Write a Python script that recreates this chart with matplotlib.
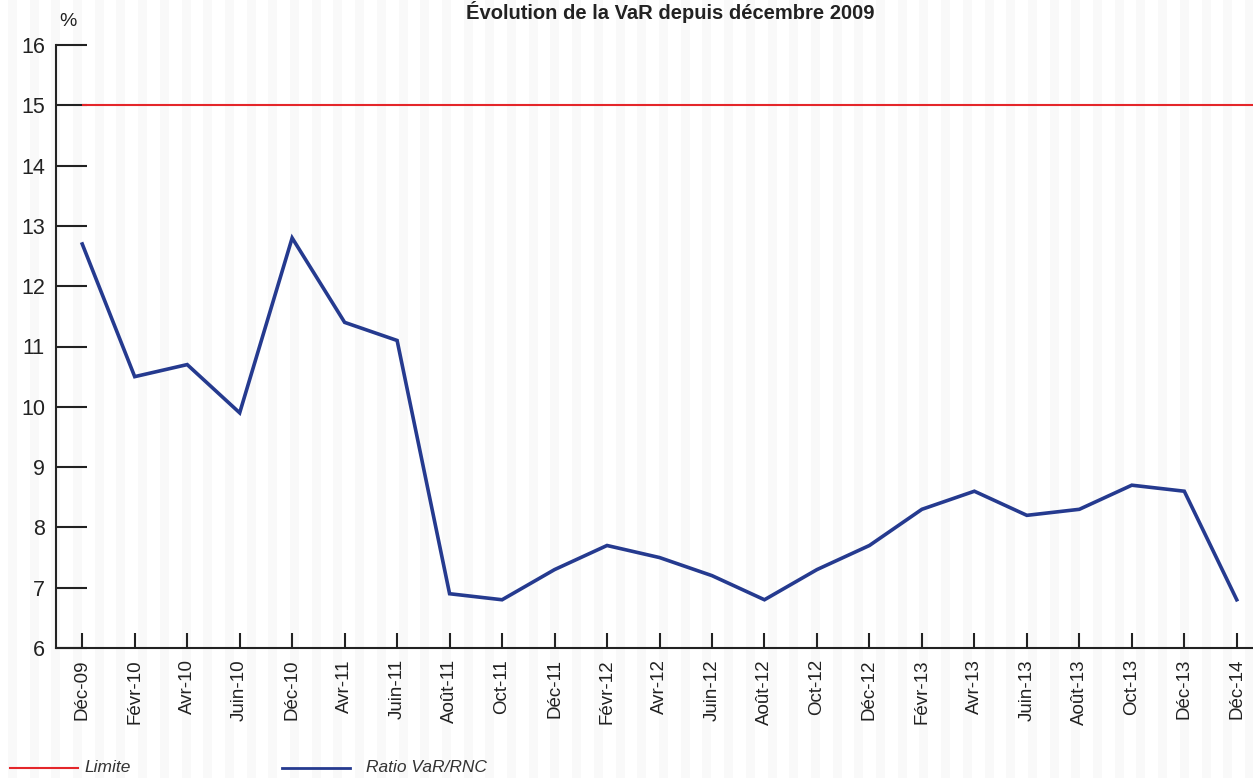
import matplotlib
matplotlib.use("Agg")
import matplotlib.pyplot as plt
from matplotlib.lines import Line2D
from matplotlib.patches import Rectangle

plt.rcParams['font.family'] = ['Liberation Sans', 'DejaVu Sans']

labels = ["Déc-09", "Févr-10", "Avr-10", "Juin-10", "Déc-10", "Avr-11", "Juin-11",
          "Août-11", "Oct-11", "Déc-11", "Févr-12", "Avr-12", "Juin-12", "Août-12",
          "Oct-12", "Déc-12", "Févr-13", "Avr-13", "Juin-13", "Août-13", "Oct-13",
          "Déc-13", "Déc-14"]
ratio = [12.7, 10.5, 10.7, 9.9, 12.8, 11.4, 11.1, 6.9, 6.8, 7.3, 7.7, 7.5, 7.2, 6.8,
         7.3, 7.7, 8.3, 8.6, 8.2, 8.3, 8.7, 8.6, 6.8]
limite = 15
yticks = [6, 7, 8, 9, 10, 11, 12, 13, 14, 15, 16]

W, H = 1253, 778
fig = plt.figure(figsize=(W / 100, H / 100), dpi=100, facecolor='white')

# faint vertical stripes of the scanned background
period = 21.7
xs = 8.0
while xs < W:
    fig.add_artist(Rectangle((xs / W, 0), 9 / W, 1, transform=fig.transFigure,
                             facecolor='#f9f9f9', edgecolor='none', zorder=0))
    xs += period

ax = fig.add_axes([56 / W, (H - 648) / H, (1263 - 56) / W, (648 - 45) / H])
ax.set_facecolor('none')
ax.patch.set_alpha(0)

x = list(range(len(labels)))
ax.set_xlim(-0.5, 22.5)
ax.set_ylim(6, 16)
ax.axhline(limite, xmin=0.5 / 23, xmax=1, color='#e4262a', lw=1.5, solid_capstyle='butt')
ax.plot(x, ratio, color='#253a8f', lw=2.6, solid_joinstyle='miter')

ax.set_yticks(yticks)
ax.set_yticklabels([str(v) for v in yticks], fontsize=15.5, color='#222222')
ax.set_xticks(x)
ax.set_xticklabels(labels, rotation=90, fontsize=13.5, color='#222222')

for s in ['top', 'right']:
    ax.spines[s].set_visible(False)
for s in ['left', 'bottom']:
    ax.spines[s].set_linewidth(1.5)
    ax.spines[s].set_color('#222222')

ax.tick_params(axis='y', direction='in', length=22, width=1.5, color='#222222', pad=8)
ax.tick_params(axis='x', direction='in', length=11, width=1.5, color='#222222', pad=8)

fig.text(68 / W, 1 - 22 / H, '%', fontsize=14, ha='center', va='center', color='#222222')
fig.text(670 / W, 1 - 1 / H, 'Évolution de la VaR depuis décembre 2009', fontsize=14.5,
         fontweight='bold', ha='center', va='top', color='#222222')

# legend
fig.add_artist(Line2D([10 / W, 78 / W], [1 - 768 / H, 1 - 768 / H], color='#e4262a', lw=1.5))
fig.text(84 / W, 1 - 768 / H, 'Limite', fontsize=12.5, style='italic', va='center', color='#333333')
fig.add_artist(Line2D([282 / W, 350 / W], [1 - 768 / H, 1 - 768 / H], color='#253a8f', lw=2))
fig.text(366 / W, 1 - 768 / H, 'Ratio VaR/RNC', fontsize=12.5, style='italic', va='center', color='#333333')

fig.savefig('out.png', dpi=100, facecolor='white')
